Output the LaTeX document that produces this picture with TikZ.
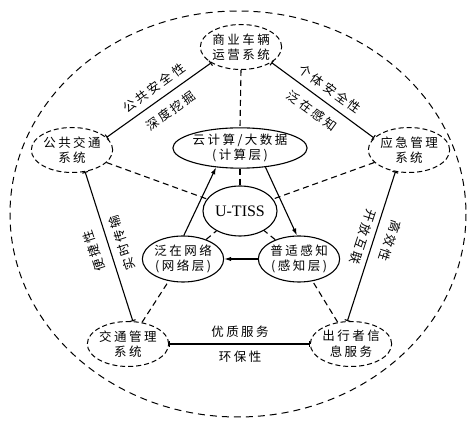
\documentclass[tikz,border=0pt]{standalone}
\usepackage{fontspec}
\setmainfont[LetterSpace=20]{Noto Sans CJK SC}
\newfontfamily\latfont{Liberation Serif}
\usetikzlibrary{shapes.geometric,arrows.meta}
\tikzset{
  outernode/.style={ellipse, draw, line width=1pt, dash pattern=on 5pt off 3pt,
    minimum width=78pt, minimum height=45pt, inner sep=0pt, align=center,
    font=\fontsize{12.5}{15.5}\selectfont},
  innernode/.style={ellipse, draw, line width=1.1pt, inner sep=0pt, align=center,
    font=\fontsize{12.5}{15.5}\selectfont},
  lbl/.style={inner sep=0pt, font=\fontsize{12.5}{14}\selectfont},
  sline/.style={line width=1.1pt, {Bar[width=6pt]}-{Bar[width=6pt]}},
  dline/.style={line width=1.1pt, dash pattern=on 6pt off 4pt},
  arr/.style={line width=1.1pt, -{Latex[length=7pt,width=4.5pt]}},
}
\begin{document}
\begin{tikzpicture}[x=1pt,y=-1pt]
\useasboundingbox (0,0) rectangle (475,435);
\draw[line width=1pt, dash pattern=on 7pt off 5pt] (238,214) ellipse [x radius=228, y radius=203];

\node[outernode] (C) at (241,47) {商业车辆\\运营系统};
\node[outernode] (P) at (72,150) {公共交通\\系统};
\node[outernode] (E) at (409,150) {应急管理\\系统};
\node[outernode] (T) at (128,344) {交通管理\\系统};
\node[outernode] (S) at (351,344) {出行者信\\息服务};

\node[innernode, minimum width=114pt, minimum height=40pt] (K) at (240,148) {云计算/大数据\\(计算层)};
\node[innernode, minimum width=74pt, minimum height=50pt, font=\fontsize{16}{18}\latfont] (U) at (240,211) {U-TISS};
\node[innernode, minimum width=78pt, minimum height=46pt] (N) at (183,259) {泛在网络\\(网络层)};
\node[innernode, minimum width=78pt, minimum height=46pt] (G) at (299,259) {普适感知\\(感知层)};

% solid connectors
\draw[sline] (C.208) -- (P.20);
\draw[sline] (C.333) -- (E.161);
\draw[sline] (P.-59) -- (T.78);
\draw[sline] (E.238) -- (S.99);
\draw[sline] (T.0) -- (S.180);

% dashed connectors
\draw[dline] (C.south) -- (K.north);
\draw[dline] (K.south) -- (U.north);
\draw[dline] (P) -- (U);
\draw[dline] (E) -- (U);
\draw[dline] (T) -- (N);
\draw[dline] (N) -- (U);
\draw[dline] (S) -- (G);
\draw[dline] (G) -- (U);

% arrows
\draw[arr] (N.88) -- (K.219);
\draw[arr] (K.-37) -- (G.95);
\draw[arr] (G.west) -- (N.east);

% labels
\node[lbl, rotate=36] (l1) at (154,88) {公共安全性};
\node[lbl, rotate=36] (l2) at (171,111) {深度挖掘};
\node[lbl, rotate=-36] (l3) at (330,89) {个体安全性};
\node[lbl, rotate=-36] (l4) at (312,111) {泛在感知};
\node[lbl, rotate=108] (l5) at (94,251) {便捷性};
\node[lbl, rotate=108] (l6) at (122,243) {实时传输};
\node[lbl, rotate=-108] (l7) at (363,237) {开放互联};
\node[lbl, rotate=-108] (l8) at (390,241) {高效性};
\node[lbl] (l9) at (240,332) {优质服务};
\node[lbl] (l10) at (240,357) {环保性};
\end{tikzpicture}
\end{document}
